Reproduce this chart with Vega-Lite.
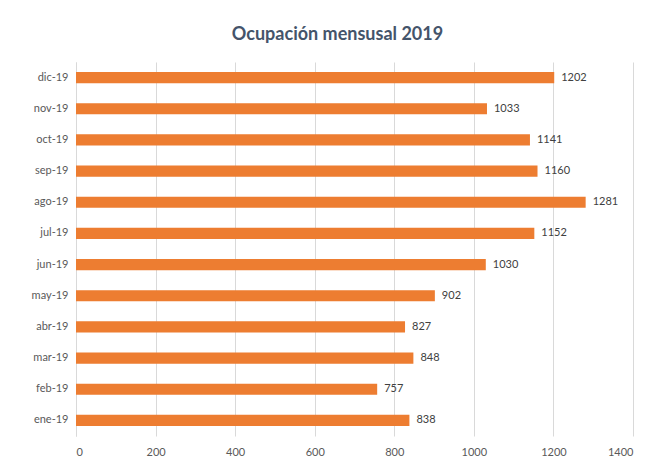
{
  "$schema": "https://vega.github.io/schema/vega-lite/v6.json",
  "autosize": {"type": "none"},
  "width": 557,
  "height": 374,
  "padding": {"left": 76, "top": 62, "right": 22, "bottom": 29},
  "background": "white",
  "title": {
    "text": "Ocupación mensusal 2019",
    "font": "Lato",
    "fontSize": 18,
    "fontWeight": "bold",
    "color": "#44546A",
    "offset": 18,
    "dx": -17
  },
  "data": {
    "values": [
      {"mes": "ene-19", "valor": 838},
      {"mes": "feb-19", "valor": 757},
      {"mes": "mar-19", "valor": 848},
      {"mes": "abr-19", "valor": 827},
      {"mes": "may-19", "valor": 902},
      {"mes": "jun-19", "valor": 1030},
      {"mes": "jul-19", "valor": 1152},
      {"mes": "ago-19", "valor": 1281},
      {"mes": "sep-19", "valor": 1160},
      {"mes": "oct-19", "valor": 1141},
      {"mes": "nov-19", "valor": 1033},
      {"mes": "dic-19", "valor": 1202}
    ]
  },
  "encoding": {
    "y": {
      "field": "mes",
      "type": "nominal",
      "sort": ["dic-19","nov-19","oct-19","sep-19","ago-19","jul-19","jun-19","may-19","abr-19","mar-19","feb-19","ene-19"],
      "scale": {"paddingInner": 0.64, "paddingOuter": 0.32},
      "axis": {
        "title": null,
        "labelFont": "Lato",
        "labelFontSize": 11,
        "labelColor": "#595959",
        "domainColor": "#D9D9D9",
        "ticks": false,
        "labelPadding": 8
      }
    },
    "x": {
      "field": "valor",
      "type": "quantitative",
      "scale": {"domain": [0, 1400], "nice": false},
      "axis": {
        "title": null,
        "format": "d",
        "values": [0, 200, 400, 600, 800, 1000, 1200, 1400],
        "labelFont": "Lato",
        "labelFontSize": 11,
        "labelColor": "#595959",
        "domain": false,
        "ticks": false,
        "gridColor": "#D9D9D9",
        "labelPadding": 10
      }
    }
  },
  "layer": [
    {"mark": {"type": "bar", "color": "#ED7D31"}},
    {
      "mark": {"type": "text", "align": "left", "dx": 7, "font": "Lato", "fontSize": 11, "color": "#404040"},
      "encoding": {"text": {"field": "valor", "type": "quantitative", "format": "d"}}
    }
  ],
  "config": {"view": {"stroke": null}}
}
